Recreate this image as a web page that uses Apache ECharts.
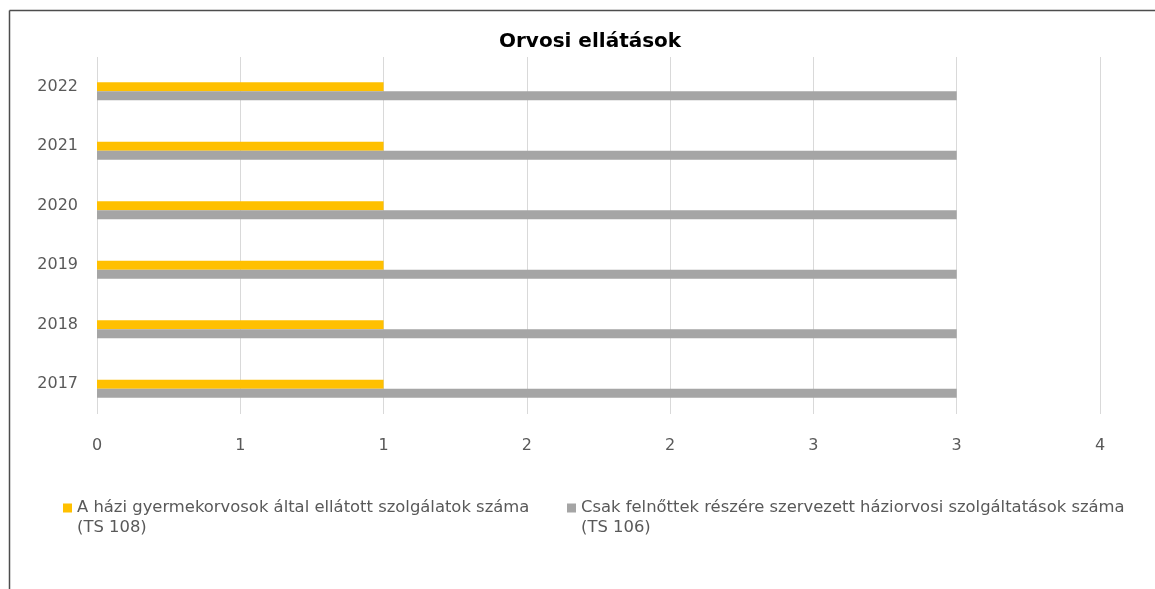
<!DOCTYPE html>
<html>
<head>
<meta charset="utf-8">
<script src="https://cdn.jsdelivr.net/npm/echarts@6/dist/echarts.min.js"></script>
<style>
html,body{margin:0;padding:0;background:#fff;}
#chart{width:1155px;height:589px;}
</style>
</head>
<body>
<div id="chart"></div>
<script>
const title = 'Orvosi ellátások';
const categories = ['2017', '2018', '2019', '2020', '2021', '2022'];
const seriesNames = [
  'A házi gyermekorvosok által ellátott szolgálatok száma\n(TS 108)',
  'Csak felnőttek részére szervezett háziorvosi szolgáltatások száma\n(TS 106)'
];
const childValues = [1, 1, 1, 1, 1, 1];
const adultValues = [3, 3, 3, 3, 3, 3];
const xTickLabels = ['0', '1', '1', '2', '2', '3', '3', '4'];

const chart = echarts.init(document.getElementById('chart'));
const font = '"DejaVu Sans", "Open Sans", sans-serif';
const legendIcon = 'path://M0,0h9v9h-9z M0,29h0.01v0.01h-0.01z';
const legendCommon = {
  top: 498, orient: 'horizontal', padding: 0,
  itemWidth: 9, itemHeight: 29, icon: legendIcon, itemGap: 6,
  textStyle: { fontFamily: font, fontSize: 16.4, color: '#595959', lineHeight: 20, padding: [0, 0, 0, 0] }
};
chart.setOption({
  animation: false,
  backgroundColor: '#fff',
  textStyle: { fontFamily: font },
  title: {
    text: title, left: 494, top: 27,
    textStyle: { fontFamily: font, fontSize: 20, fontWeight: 'bold', color: '#000' }
  },
  grid: [
    { left: 97, right: 55, top: 57, bottom: 175, containLabel: false },
    { left: 97, right: 55, top: 61.5, bottom: 170.5, containLabel: false }
  ],
  legend: [
    Object.assign({ data: [seriesNames[0]], left: 63 }, legendCommon),
    Object.assign({ data: [seriesNames[1]], left: 567 }, legendCommon)
  ],
  xAxis: [
    {
      type: 'value', gridIndex: 0, min: 0, max: 3.5, interval: 0.5,
      axisLine: { show: false }, axisTick: { show: false },
      splitLine: { show: true, lineStyle: { color: '#d9d9d9', width: 1 } },
      axisLabel: {
        color: '#595959', fontSize: 16, margin: 24, fontFamily: font,
        formatter: (v) => xTickLabels[Math.round(v / 0.5)]
      }
    },
    { type: 'value', gridIndex: 1, min: 0, max: 3.5, interval: 0.5, show: false }
  ],
  yAxis: [
    {
      type: 'category', gridIndex: 0, data: categories,
      axisLine: { show: false }, axisTick: { show: false },
      axisLabel: { color: '#595959', fontSize: 16, margin: 19, fontFamily: font }
    },
    { type: 'category', gridIndex: 1, data: categories, show: false }
  ],
  series: [
    {
      name: seriesNames[0], type: 'bar', data: childValues, xAxisIndex: 1, yAxisIndex: 1,
      itemStyle: { color: '#ffc000' }, barGap: '0%', barCategoryGap: '70%'
    },
    {
      name: seriesNames[1], type: 'bar', data: adultValues, xAxisIndex: 1, yAxisIndex: 1,
      itemStyle: { color: '#a5a5a5' }, barGap: '0%', barCategoryGap: '70%'
    }
  ],
  graphic: [
    { type: 'line', shape: { x1: 9.5, y1: 10.5, x2: 1155, y2: 10.5 }, style: { stroke: '#4d4d4d', lineWidth: 1.5 } },
    { type: 'line', shape: { x1: 9.5, y1: 10.5, x2: 9.5, y2: 589 }, style: { stroke: '#4d4d4d', lineWidth: 1.5 } }
  ]
});
</script>
</body>
</html>
